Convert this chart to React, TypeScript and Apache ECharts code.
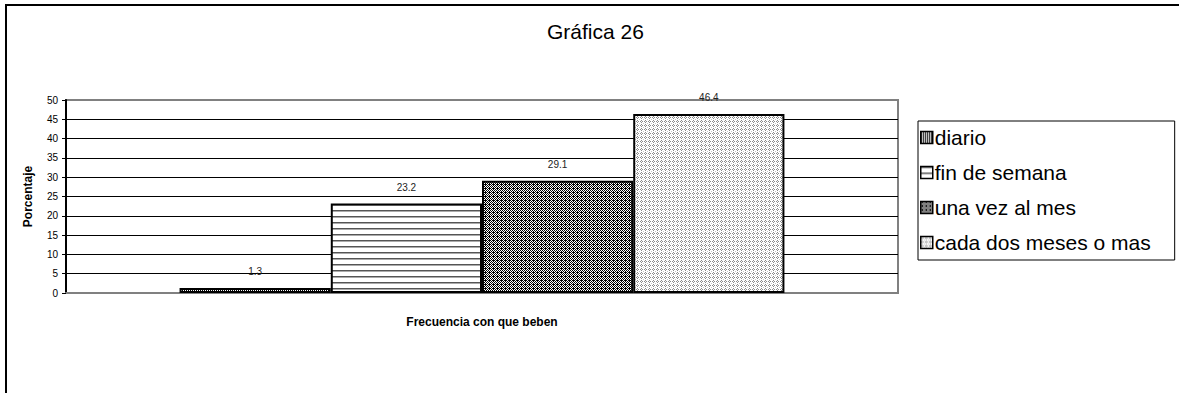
import React, { useEffect, useRef } from "react";
import * as echarts from "echarts";

const categories = [""];
const seriesNames = ["diario", "fin de semana", "una vez al mes", "cada dos meses o mas"];
const seriesValues = [1.3, 23.2, 29.1, 46.4];
const titleText = "Gráfica 26";
const yAxisName = "Porcentaje";
const xAxisName = "Frecuencia con que beben";

const FONT = "'Liberation Sans', Arial, Helvetica, sans-serif";

function makePattern(kind: number) {
  const c = document.createElement("canvas");
  const size = kind === 1 ? 6 : 4;
  c.width = size;
  c.height = size;
  const ctx = c.getContext("2d")!;
  ctx.fillStyle = "#ffffff";
  ctx.fillRect(0, 0, size, size);
  if (kind === 0) {
    ctx.fillStyle = "#000000";
    ctx.fillRect(0, 0, 1, size);
    ctx.fillRect(2, 0, 1, size);
  } else if (kind === 1) {
    ctx.fillStyle = "#555555";
    ctx.fillRect(0, 0, size, 1);
    ctx.fillStyle = "#aaaaaa";
    ctx.fillRect(0, 1, size, 1);
  } else if (kind === 2) {
    ctx.fillStyle = "#000000";
    for (let y = 0; y < size; y++) {
      for (let x = 0; x < size; x++) {
        if ((x + y) % 2 === 0) ctx.fillRect(x, y, 1, 1);
      }
    }
    ctx.fillRect(0, 0, 2, 1);
  } else {
    ctx.fillStyle = "#8a8a8a";
    ctx.fillRect(1, 0, 1, 1);
    ctx.fillRect(0, 1, 1, 1);
    ctx.fillRect(2, 1, 1, 1);
    ctx.fillRect(1, 2, 1, 1);
    ctx.fillStyle = "#c4c4c4";
    ctx.fillRect(3, 3, 1, 1);
  }
  return { image: c, repeat: "repeat", imageWidth: size, imageHeight: size } as any;
}

export default function App() {
  const ref = useRef<HTMLDivElement>(null);
  useEffect(() => {
    if (!ref.current) return;
    const chart = echarts.init(ref.current, null, { renderer: "svg" });
    const patterns = [0, 1, 2, 3].map((k) => makePattern(k));
    const splitColors = ["#808080"];
    for (let i = 1; i < 10; i++) splitColors.push("#000000");
    splitColors.push("#808080");

    const option: any = {
      animation: false,
      backgroundColor: "#ffffff",
      textStyle: { fontFamily: FONT },
      title: {
        text: titleText,
        left: 547,
        top: 21,
        padding: 0,
        textStyle: { fontFamily: FONT, fontSize: 21, fontWeight: "normal", color: "#000" },
      },
      legend: {
        orient: "vertical",
        left: 918,
        top: 121,
        padding: [6, 24, 7, 2],
        itemGap: 14,
        itemWidth: 12,
        itemHeight: 12,
        borderColor: "#000",
        borderWidth: 1,
        backgroundColor: "#fff",
        icon: "rect",
        itemStyle: { borderColor: "#000", borderWidth: 1.5 },
        textStyle: { fontFamily: FONT, fontSize: 21, lineHeight: 20, color: "#000", padding: [0, 0, 0, -3] },
        data: seriesNames,
      },
      grid: {
        left: 66,
        right: 281,
        top: 100,
        bottom: 100,
        show: true,
        borderColor: "#808080",
        borderWidth: 2,
        backgroundColor: "#fff",
      },
      xAxis: {
        type: "category",
        data: categories,
        name: xAxisName,
        nameLocation: "middle",
        nameGap: 23,
        nameTextStyle: { fontFamily: FONT, fontSize: 12, fontWeight: "bold", color: "#000" },
        axisLine: { show: true, lineStyle: { color: "#808080", width: 2 } },
        axisTick: { show: false },
        axisLabel: { show: false },
        splitLine: { show: false },
      },
      yAxis: {
        type: "value",
        min: 0,
        max: 50,
        interval: 5,
        name: yAxisName,
        nameLocation: "middle",
        nameRotate: 90,
        nameGap: 32,
        nameTextStyle: { fontFamily: FONT, fontSize: 12, fontWeight: "bold", color: "#000" },
        axisLine: { show: true, onZero: false, lineStyle: { color: "#000", width: 2 } },
        axisTick: { show: true, inside: false, length: 4, lineStyle: { color: "#000", width: 1 } },
        axisLabel: { fontFamily: FONT, fontSize: 10, color: "#000", margin: 8 },
        splitLine: { show: true, lineStyle: { color: splitColors, width: 1 } },
      },
      series: seriesNames.map((name, i) => ({
        name,
        type: "bar",
        data: [seriesValues[i]],
        barGap: "0%",
        barCategoryGap: "27.3%",
        itemStyle: { color: patterns[i], borderColor: "#000", borderWidth: 2 },
        label: {
          show: true,
          position: "top",
          distance: 11,
          fontFamily: FONT,
          fontSize: 10,
          color: "#222",
        },
      })),
      graphic: [
        {
          type: "rect",
          shape: { x: 5, y: 4, width: 1200, height: 2 },
          style: { fill: "#000" },
          silent: true,
          z: 100,
        },
        {
          type: "rect",
          shape: { x: 5, y: 4, width: 2, height: 400 },
          style: { fill: "#000" },
          silent: true,
          z: 100,
        },
      ],
    };
    chart.setOption(option);
    return () => chart.dispose();
  }, []);
  return (
    <div
      ref={ref}
      style={{ position: "fixed", left: 0, top: 0, width: 1179, height: 393, background: "#fff" }}
    />
  );
}
